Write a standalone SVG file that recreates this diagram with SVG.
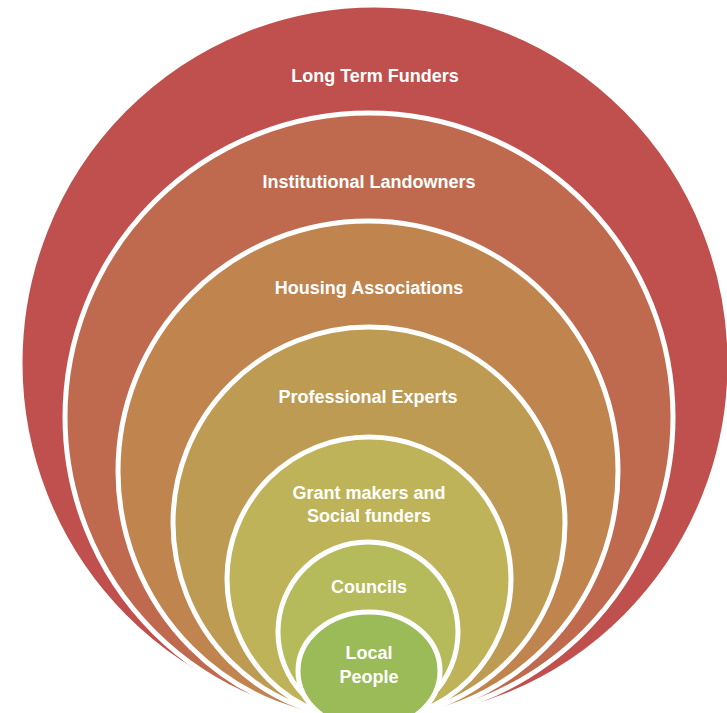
<svg xmlns="http://www.w3.org/2000/svg" width="727" height="713" viewBox="0 0 727 713">
<style>
.ring{stroke:#ffffff;stroke-width:5}
.lbl{font-family:"Liberation Sans",Arial,sans-serif;font-weight:bold;font-size:18px;fill:#ffffff;text-anchor:middle}
</style>
<rect width="727" height="713" fill="#ffffff"/>
<g id="n1"><ellipse class="ring" cx="375" cy="363" rx="355" ry="358" fill="#C0504D"/><text class="lbl" x="375" y="82">Long Term Funders</text></g>
<g id="n2"><circle class="ring" cx="369" cy="417" r="304" fill="#BF6A4E"/><text class="lbl" x="369" y="188">Institutional Landowners</text></g>
<g id="n3"><circle class="ring" cx="368" cy="471" r="250" fill="#C0844F"/><text class="lbl" x="369" y="294">Housing Associations</text></g>
<g id="n4"><circle class="ring" cx="369" cy="523" r="196" fill="#BE9B53"/><text class="lbl" x="368" y="403">Professional Experts</text></g>
<g id="n5"><circle class="ring" cx="369" cy="579" r="142" fill="#BFB359"/><text class="lbl" x="369" y="499">Grant makers and</text><text class="lbl" x="369" y="522">Social funders</text></g>
<g id="n6"><circle class="ring" cx="368" cy="632" r="90" fill="#B5BB5A"/><text class="lbl" x="369" y="593">Councils</text></g>
<g id="n7"><ellipse class="ring" cx="369" cy="671" rx="71" ry="59" fill="#9BBB59"/><text class="lbl" x="369" y="659">Local</text><text class="lbl" x="369" y="683">People</text></g>
<g id="connectors"/>
</svg>
